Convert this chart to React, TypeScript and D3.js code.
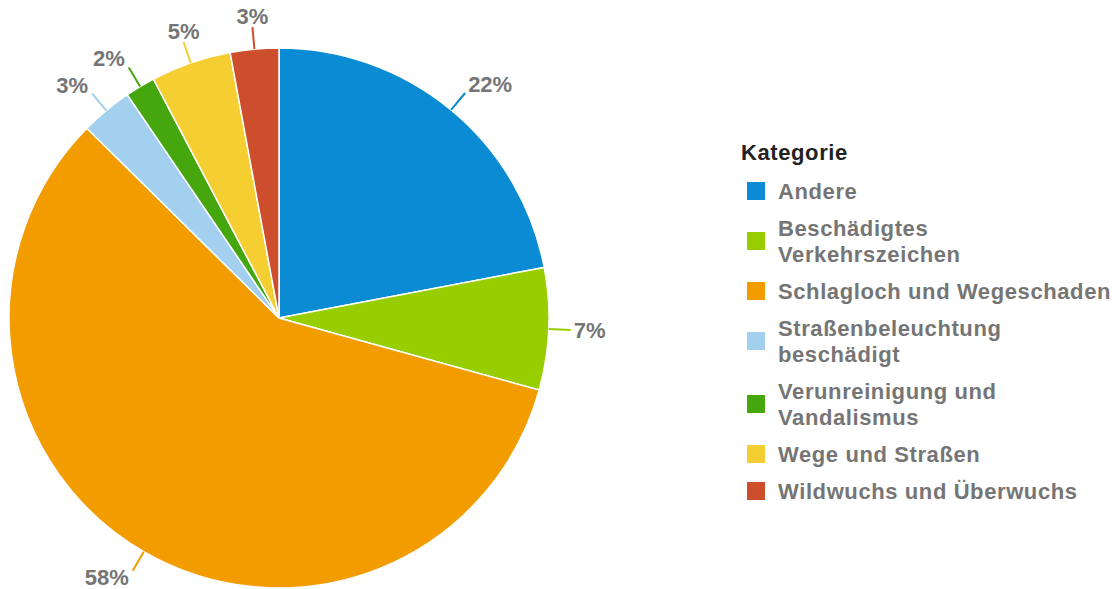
import * as d3 from "d3";
import React from "react";

// Share of reports per category (percent)
const categories = [
  "Andere",
  "Beschädigtes Verkehrszeichen",
  "Schlagloch und Wegeschaden",
  "Straßenbeleuchtung beschädigt",
  "Verunreinigung und Vandalismus",
  "Wege und Straßen",
  "Wildwuchs und Überwuchs",
];
// legend text as it wraps in the legend
const legendLines = [
  ["Andere"],
  ["Beschädigtes", "Verkehrszeichen"],
  ["Schlagloch und Wegeschaden"],
  ["Straßenbeleuchtung", "beschädigt"],
  ["Verunreinigung und", "Vandalismus"],
  ["Wege und Straßen"],
  ["Wildwuchs und Überwuchs"],
];
const values = [22.0, 7.3, 58.1, 3.1, 1.8, 4.8, 2.9];
const colors = [
  "#0a8bd3",
  "#98ce00",
  "#f39c00",
  "#a3d0ef",
  "#46a60e",
  "#f5ce32",
  "#cc4e2c",
];
const legendTitle = "Kategorie";

const W = 1112;
const H = 589;
const cx = 279;
const cy = 318;
const R = 270;
const FONT = "'Liberation Sans', Arial, sans-serif";
const FS = 22;
const LS = 0.6; // legend letter spacing

export default function App() {
  const data = categories.map((c, i) => ({ name: c, value: values[i], color: colors[i] }));
  const total = d3.sum(values);
  const pie = d3.pie<any>().sort(null).value((d) => d.value);
  const arcs = pie(data);
  const arc = d3.arc<any>().innerRadius(0).outerRadius(R);

  const pt = (a: number, r: number) => [cx + r * Math.sin(a), cy - r * Math.cos(a)];

  // legend layout
  let y = 191;
  const legend = data.map((d, i) => {
    const lines = legendLines[i];
    const item = { ...d, lines, y };
    y += (lines.length - 1) * 26 + 37;
    return item;
  });

  return (
    <svg
      width={W}
      height={H}
      style={{ position: "absolute", left: 0, top: 0, background: "#fff" }}
      fontFamily={FONT}
    >
      <g>
        {arcs.map((a, i) => (
          <path
            key={i}
            transform={`translate(${cx},${cy})`}
            d={arc(a)!}
            fill={a.data.color}
            stroke="#fff"
            strokeWidth={1.5}
          />
        ))}
      </g>
      <g>
        {arcs.map((a, i) => {
          const mid = (a.startAngle + a.endAngle) / 2;
          const [x1, y1] = pt(mid, R);
          const [x2, y2] = pt(mid, R + 22);
          const s = Math.sin(mid);
          const c = Math.cos(mid);
          const anchor = Math.abs(s) < 0.4 ? "middle" : s > 0 ? "start" : "end";
          const tx = anchor === "middle" ? x2 : x2 + (s > 0 ? 3 : -4);
          const ty = y2 - c * (c > 0 ? 11 : 8);
          return (
            <g key={i}>
              <line x1={x1} y1={y1} x2={x2} y2={y2} stroke={a.data.color} strokeWidth={2} />
              <text
                x={tx}
                y={ty}
                dy="0.35em"
                textAnchor={anchor}
                fontSize={FS}
                fontWeight="bold"
                fill="#757575"
              >
                {d3.format(".0f")((a.data.value / total) * 100)}%
              </text>
            </g>
          );
        })}
      </g>
      <g>
        <text
          x={741}
          y={152}
          dy="0.35em"
          fontSize={FS}
          fontWeight="bold"
          fill="#222"
          letterSpacing={0.6}
        >
          {legendTitle}
        </text>
        {legend.map((d, i) => {
          const midY = d.y + ((d.lines.length - 1) * 26) / 2;
          return (
            <g key={i}>
              <rect x={747} y={midY - 9} width={18} height={18} fill={d.color} />
              {d.lines.map((l, j) => (
                <text
                  key={j}
                  x={778}
                  y={d.y + j * 26}
                  dy="0.35em"
                  fontSize={FS}
                  fontWeight="bold"
                  fill="#757575"
                  letterSpacing={LS}
                >
                  {l}
                </text>
              ))}
            </g>
          );
        })}
      </g>
    </svg>
  );
}
